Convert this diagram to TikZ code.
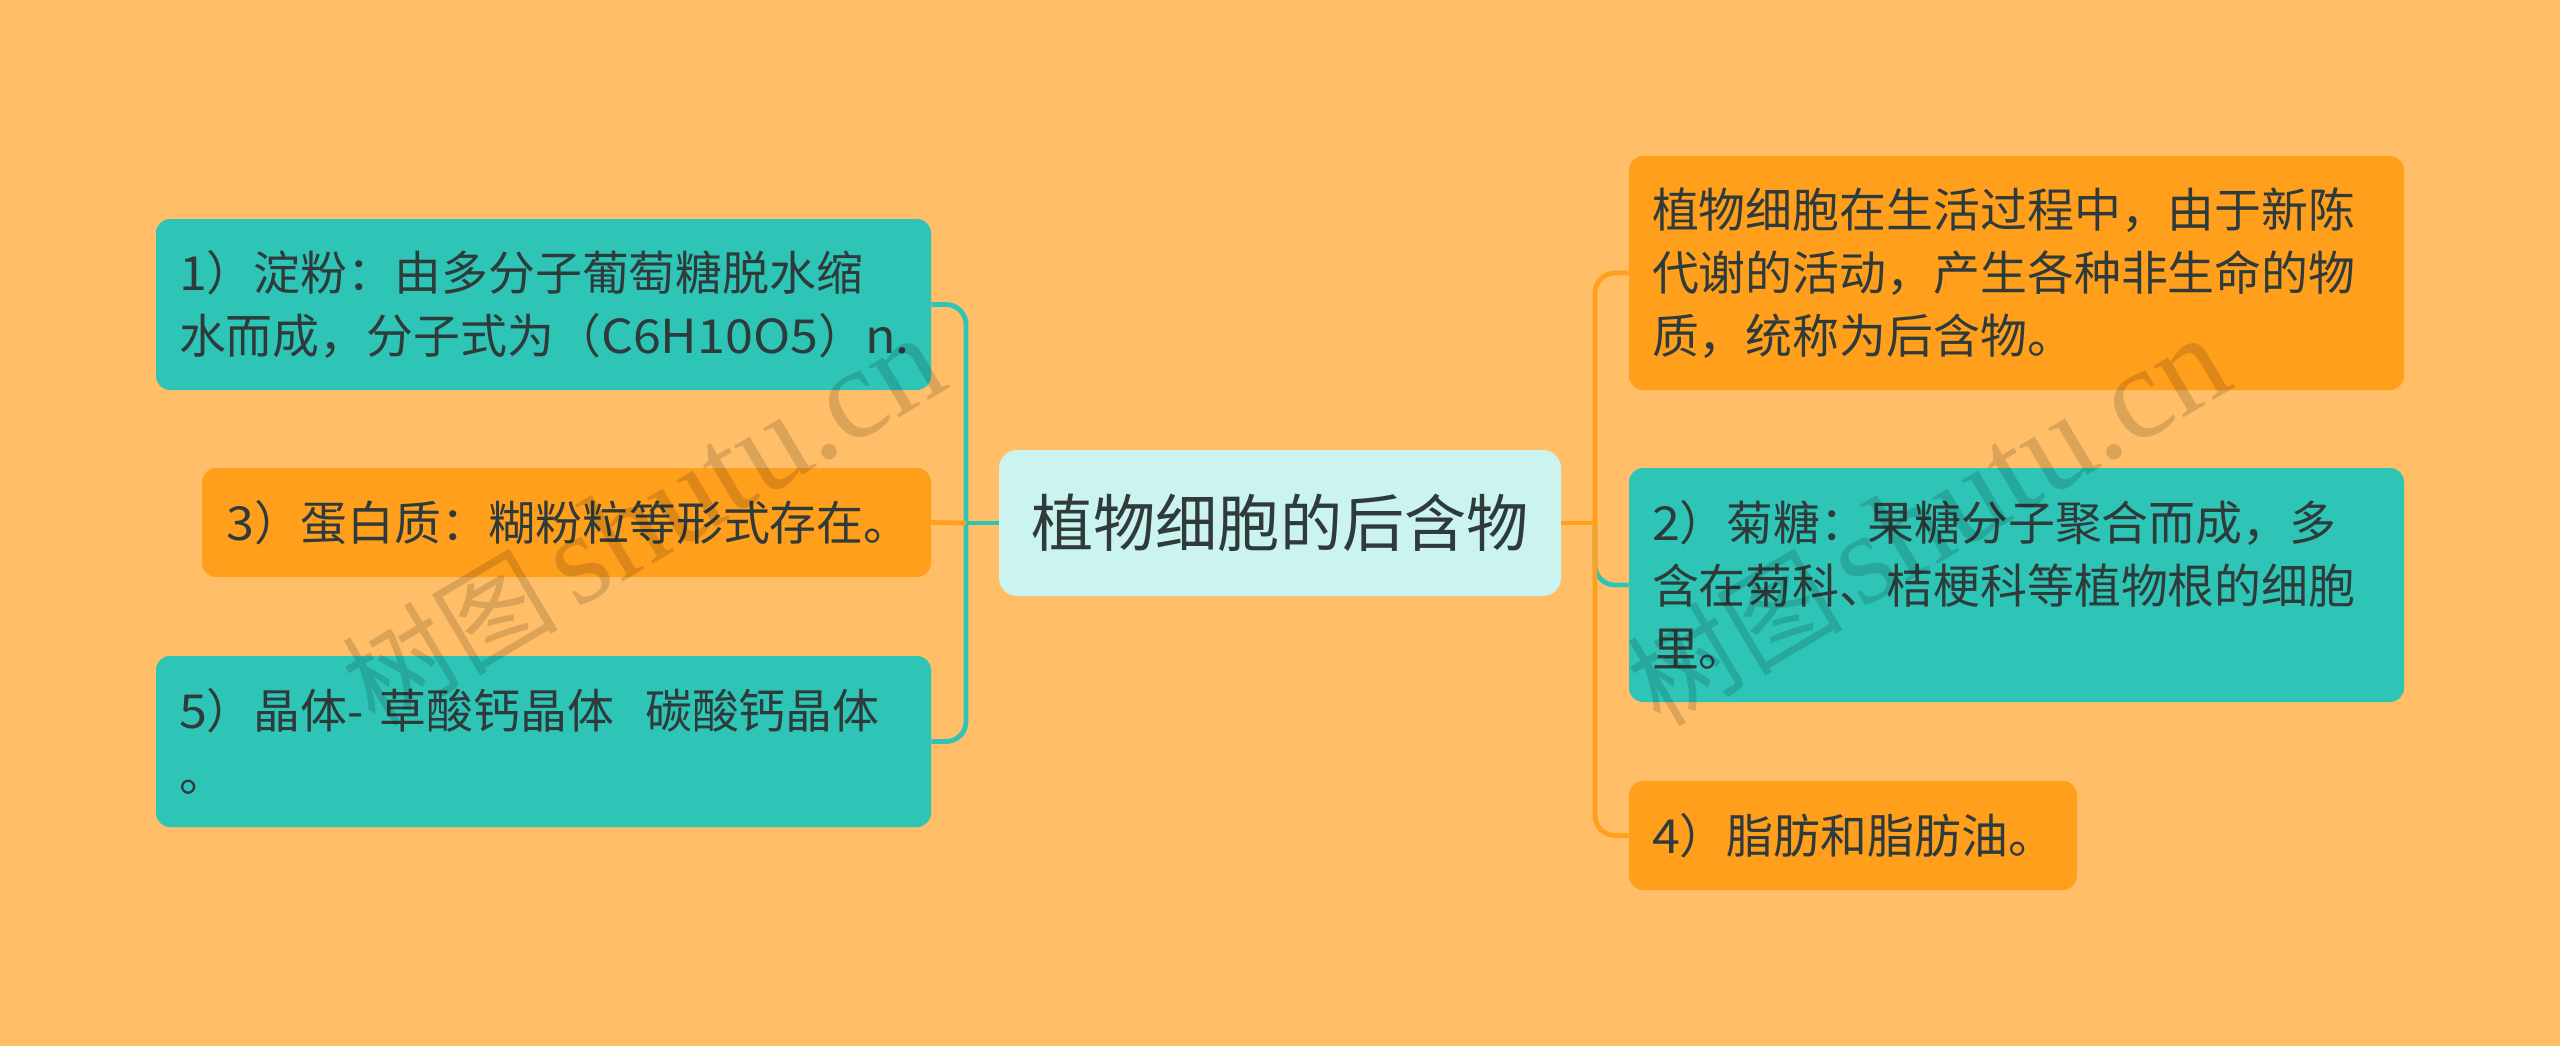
\documentclass[tikz,border=0pt]{standalone}
\usepackage{fontspec}
\setmainfont{Noto Sans CJK SC}
\newfontfamily\wmlatin{Liberation Serif}
\newfontfamily\latinw[FakeStretch=1.07]{Noto Sans CJK SC}
\definecolor{bgc}{HTML}{FFBE67}
\definecolor{tealc}{HTML}{2EC4B6}
\definecolor{orangec}{HTML}{FF9F1C}
\definecolor{centerc}{HTML}{CBF3F0}
\definecolor{textc}{HTML}{2F3B3A}
\tikzset{
  box/.style={rounded corners=7pt,inner xsep=11.5pt,inner ysep=0pt,align=left,text=textc,
    font=\fontsize{23.45}{31.5}\selectfont,anchor=center},
  tealbox/.style={box,fill=tealc},
  orangebox/.style={box,fill=orangec},
  rootbox/.style={rounded corners=9pt,fill=centerc,text=textc,inner sep=0pt,anchor=center,
    minimum width=281pt,minimum height=73pt,font=\fontsize{31.1}{36}\selectfont},
  link/.style={line width=2.4pt,rounded corners=10pt},
  tl/.style={link,draw=tealc},
  ol/.style={link,draw=orangec},
  wm/.style={rotate=30.7,text=black,opacity=.14,anchor=center}
}
\begin{document}
\begin{tikzpicture}[x=.5pt,y=-.5pt]
\useasboundingbox (0,0) rectangle (2560,1046);
\fill[bgc] (0,0) rectangle (2560,1046);
\node[rootbox] (root) at (1280,523) {植物细胞的后含物};
\node[tealbox,text width=364.5pt,minimum height=85.5pt] (b1) at (543.5,304.5) {{\latinw 1}）淀粉：由多分子葡萄糖脱水缩\\水而成，分子式为（{\latinw C6H10O5}）{\latinw n.}};
\node[orangebox,text width=341.5pt,minimum height=54.5pt] (b3) at (566.5,522.5) {\hspace{.6pt}{\latinw 3}）蛋白质：糊粉粒等形式存在。};
\node[tealbox,text width=364.5pt,minimum height=85.5pt] (b5) at (543.5,741.5) {{\latinw 5}）晶体- 草酸钙晶体~~碳酸钙晶体\\。};
\node[orangebox,text width=364.5pt,minimum height=117pt] (r1) at (2016.5,273) {植物细胞在生活过程中，由于新陈\\代谢的活动，产生各种非生命的物\\质，统称为后含物。};
\node[tealbox,text width=364.5pt,minimum height=117pt] (r2) at (2016.5,585) {{\latinw 2}）菊糖：果糖分子聚合而成，多\\含在菊科、桔梗科等植物根的细胞\\里。};
\node[orangebox,text width=201pt,minimum height=54.5pt] (r4) at (1853,835.5) {{\latinw 4}）脂肪和脂肪油。};
\coordinate (lt) at (966,523);
\coordinate (rt) at (1595,523);
\draw[tl] (root.west) -- (lt);
\draw[tl] (lt) |- (b1.east);
\draw[tl] (lt) |- (b5.east);
\draw[ol] (b3.east) -- (lt);
\draw[tl] (rt) |- (r2.west);
\draw[ol] (root.east) -- (rt);
\draw[ol] (rt) |- (r1.west);
\draw[ol] (rt) |- (r4.west);
\node[wm] (w1) at (643,522) {\fontsize{54}{58}\selectfont 树图\,{\wmlatin\fontsize{65}{70}\selectfont shutu.cn}};
\node[wm] (w2) at (1928,522) {\fontsize{54}{58}\selectfont 树图\,{\wmlatin\fontsize{65}{70}\selectfont shutu.cn}};
\end{tikzpicture}
\end{document}
